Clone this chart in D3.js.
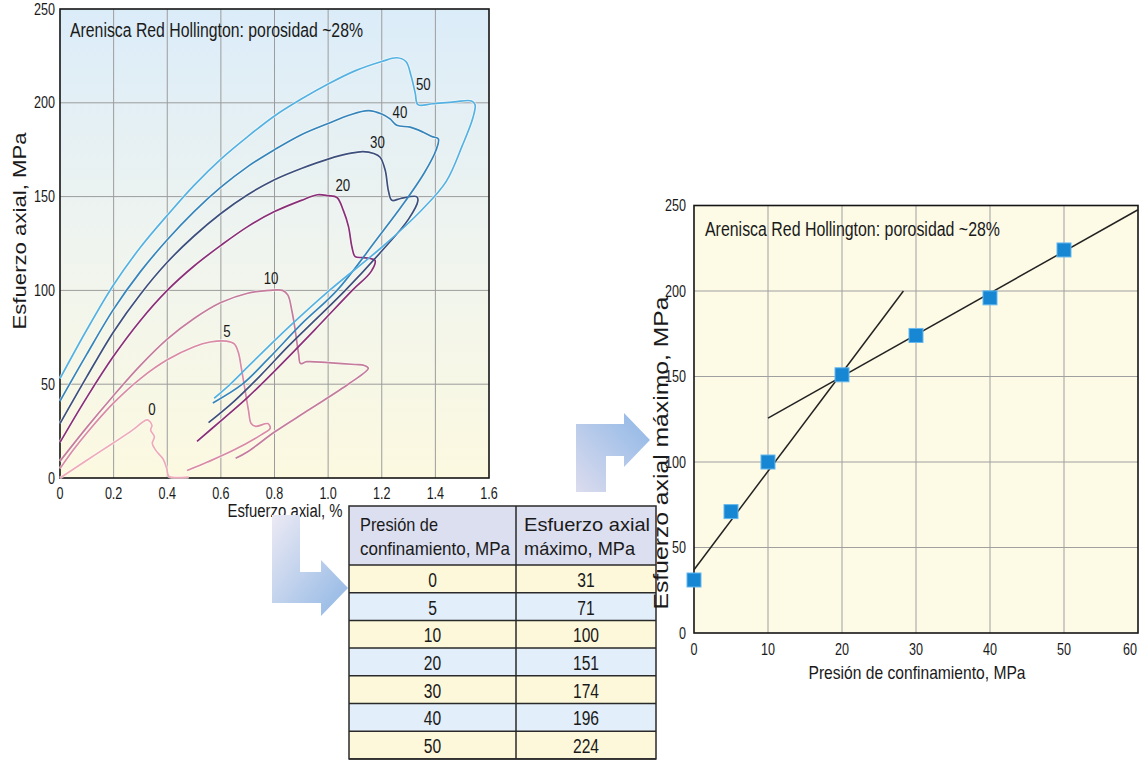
<!DOCTYPE html>
<html><head><meta charset="utf-8">
<script src="https://cdn.jsdelivr.net/npm/d3@7"></script>
<style>
body{margin:0;background:#fff;}
svg text{font-family:"Liberation Sans",Arial,sans-serif;fill:#1a1a1a;}
</style></head><body>
<svg id="c" width="1141" height="761"></svg>
<script>
// ---------- DATA ----------
const pressures = [0, 5, 10, 20, 30, 40, 50];
const peakStress = [31, 71, 100, 151, 174, 196, 224];
const strainTicks = [0, 0.2, 0.4, 0.6, 0.8, 1.0, 1.2, 1.4, 1.6];
const strainTickLabels = ["0", "0.2", "0.4", "0.6", "0.8", "1.0", "1.2", "1.4", "1.6"];
const stressTicks = [0, 50, 100, 150, 200, 250];
const pressureTicks = [0, 10, 20, 30, 40, 50, 60];
const titleText = "Arenisca Red Hollington: porosidad ~28%";

// stress-strain curves: [axial strain %, axial stress MPa]
const curve0 = [[0,0],[0.1,9.5],[0.2,18.8],[0.27,25.5],[0.31,30],[0.325,31],[0.336,30],[0.343,28],[0.338,25.5],[0.352,22],[0.344,18.5],[0.356,15],[0.385,10],[0.398,5],[0.405,1],[0.42,0.3],[0.48,0.5]];
const curve5 = [[0,5],[0.05,15],[0.1,24],[0.2,40],[0.3,53],[0.4,63],[0.5,70],[0.56,72.5],[0.62,73],[0.65,71.5],[0.665,67],[0.677,58],[0.69,47],[0.703,36],[0.713,29],[0.73,27.5],[0.775,29],[0.784,26.5],[0.75,23],[0.65,15],[0.55,8.5],[0.474,4]];
const curve10 = [[0,9],[0.1,27],[0.2,44],[0.3,60],[0.4,74],[0.5,85],[0.6,93.5],[0.7,98.5],[0.78,100],[0.83,100],[0.85,97.5],[0.865,89],[0.877,79],[0.89,66],[0.897,61],[0.92,62],[1.0,61.5],[1.1,60.5],[1.135,60],[1.15,58.5],[1.08,50.5],[0.93,36.5],[0.8,24.5],[0.7,14],[0.655,10.5]];
const curve20 = [[0,19],[0.1,43],[0.2,65],[0.3,84],[0.4,100],[0.5,113],[0.6,124],[0.7,134],[0.8,142],[0.9,148],[0.96,151],[1.0,150.5],[1.033,149.5],[1.057,142.5],[1.076,134],[1.089,123],[1.101,118],[1.13,117.5],[1.157,117],[1.175,116],[1.16,110],[1.09,100],[0.95,79],[0.8,57],[0.7,43],[0.6,30.5],[0.511,19.5]];
const curve30 = [[0,29],[0.1,54],[0.2,78],[0.3,98],[0.4,115],[0.5,129],[0.6,141],[0.7,151],[0.8,159],[0.9,165],[1.0,170],[1.08,173],[1.13,174],[1.17,173],[1.194,171],[1.213,164],[1.225,153],[1.238,148],[1.27,149],[1.33,150],[1.335,148],[1.3,138],[1.2,121],[1.064,100],[0.95,84],[0.85,70],[0.75,55],[0.65,41],[0.554,29.5]];
const curve40 = [[0,41],[0.1,66],[0.2,90],[0.3,110],[0.4,127],[0.5,142],[0.6,155],[0.7,166],[0.8,175],[0.9,183],[1.0,189],[1.08,193.5],[1.15,195.8],[1.2,194],[1.231,191.4],[1.256,188],[1.306,187],[1.355,184.3],[1.387,182],[1.411,180.8],[1.403,175],[1.36,163],[1.28,146],[1.18,127],[1.033,100],[0.9,82],[0.78,64],[0.68,50],[0.57,40]];
const curve50 = [[0,53],[0.1,79],[0.2,103],[0.3,123],[0.4,140],[0.5,156],[0.6,170],[0.7,182],[0.8,193],[0.9,202],[1.0,210],[1.1,217],[1.2,222],[1.256,224],[1.29,222],[1.31,214],[1.325,205],[1.335,199],[1.39,199.5],[1.47,200.5],[1.535,201],[1.548,199],[1.54,192],[1.50,177],[1.44,158],[1.35,143],[1.2,123],[1.005,100],[0.85,80],[0.72,62],[0.62,48],[0.575,42.5]];
const curveColors = ["#eeaab8", "#d98aa4", "#c57c9c", "#8a2f78", "#3d4f7c", "#3585bb", "#54b2e2"];
const curveLabelPos = [[0.343,36.6],[0.623,77.9],[0.787,106.3],[1.055,155.9],[1.184,179],[1.268,194.9],[1.355,210]];

// regression lines on the right chart: [pressure, peak stress]
const fitLow = [[0, 37], [28.3, 200]];
const fitHigh = [[10, 125.7], [60, 247.5]];

// ---------- HELPERS ----------
function squeeze(sel, k){ sel.each(function(){ const w=this.getComputedTextLength(); d3.select(this).attr("textLength",w*k).attr("lengthAdjust","spacingAndGlyphs"); }); return sel; }
function fitW(sel, w){ return sel.attr("textLength",w).attr("lengthAdjust","spacingAndGlyphs"); }

// ---------- DRAW ----------
const svg = d3.select("#c");
const defs = svg.append("defs");
const gL = defs.append("linearGradient").attr("id","bgL").attr("x1",0).attr("y1",0).attr("x2",0).attr("y2",1);
gL.append("stop").attr("offset","0%").attr("stop-color","#dbecf9");
gL.append("stop").attr("offset","50%").attr("stop-color","#eff4ef");
gL.append("stop").attr("offset","100%").attr("stop-color","#fcf9e0");
const gA1 = defs.append("linearGradient").attr("id","ar1").attr("x1",0).attr("y1",0).attr("x2",1).attr("y2",1);
gA1.append("stop").attr("offset","0%").attr("stop-color","#eceaf4");
gA1.append("stop").attr("offset","100%").attr("stop-color","#8fb6e4");
const gA2 = defs.append("linearGradient").attr("id","ar2").attr("x1",0).attr("y1",1).attr("x2",1).attr("y2",0);
gA2.append("stop").attr("offset","0%").attr("stop-color","#dcdcee");
gA2.append("stop").attr("offset","100%").attr("stop-color","#8db6e6");

// ---- Left chart ----
const xL = d3.scaleLinear().domain([0,1.6]).range([60,489]);
const yL = d3.scaleLinear().domain([0,250]).range([478,9]);
const L = svg.append("g");
L.append("rect").attr("x",xL(0)).attr("y",yL(250)).attr("width",xL(1.6)-xL(0)).attr("height",yL(0)-yL(250)).attr("fill","url(#bgL)");
L.append("g").selectAll("line").data(strainTicks.slice(1,-1)).join("line")
  .attr("x1",d=>xL(d)).attr("x2",d=>xL(d)).attr("y1",yL(0)).attr("y2",yL(250))
  .attr("stroke","#9c9c9c").attr("stroke-width",1);
L.append("g").selectAll("line").data(stressTicks.slice(1,-1)).join("line")
  .attr("y1",d=>yL(d)).attr("y2",d=>yL(d)).attr("x1",xL(0)).attr("x2",xL(1.6))
  .attr("stroke","#9c9c9c").attr("stroke-width",1);
L.append("rect").attr("x",xL(0)).attr("y",yL(250)).attr("width",xL(1.6)-xL(0)).attr("height",yL(0)-yL(250)).attr("fill","none").attr("stroke","#151515").attr("stroke-width",1.6);

const lineL = d3.line().x(d=>xL(d[0])).y(d=>yL(d[1])).curve(d3.curveCatmullRom.alpha(0.5));
const curves = [curve0, curve5, curve10, curve20, curve30, curve40, curve50];
L.append("g").selectAll("path").data(curves).join("path")
  .attr("d",lineL).attr("fill","none").attr("stroke","#ffffff").attr("stroke-opacity",0.6).attr("stroke-width",3.2);
L.append("g").selectAll("path").data(curves).join("path")
  .attr("d",lineL).attr("fill","none").attr("stroke",(d,i)=>curveColors[i]).attr("stroke-width",1.7).attr("stroke-linejoin","round");
squeeze(L.append("g").selectAll("text").data(pressures).join("text")
  .attr("x",(d,i)=>xL(curveLabelPos[i][0])).attr("y",(d,i)=>yL(curveLabelPos[i][1]))
  .attr("text-anchor","middle").attr("dominant-baseline","central").attr("font-size",17).text(d=>d), 0.78);

fitW(L.append("text").attr("x",70).attr("y",37).attr("font-size",20).text(titleText), 293);
squeeze(L.append("g").selectAll("text").data(stressTicks).join("text")
  .attr("x",xL(0)-5).attr("y",d=>yL(d)).attr("text-anchor","end").attr("dominant-baseline","central").attr("font-size",17).text(d=>d), 0.74);
squeeze(L.append("g").selectAll("text").data(strainTicks).join("text")
  .attr("x",d=>xL(d)).attr("y",yL(0)+15).attr("text-anchor","middle").attr("dominant-baseline","central").attr("font-size",17).text((d,i)=>strainTickLabels[i]), 0.74);
fitW(L.append("text").attr("transform",`translate(20,231) rotate(-90)`).attr("text-anchor","middle").attr("dominant-baseline","central").attr("font-size",18).text("Esfuerzo axial, MPa"), 197);
fitW(L.append("text").attr("x",285).attr("y",517).attr("text-anchor","middle").attr("font-size",18).text("Esfuerzo axial, %"), 115);

// ---- Arrows ----
svg.append("path").attr("d","M272,515 L300,515 L300,572 L321,572 L321,560 L348,588 L321,616 L321,603 L272,603 Z").attr("fill","url(#ar1)");
svg.append("path").attr("d","M576,492 L606,492 L606,456 L624,456 L624,467 L650,440 L624,413 L624,424 L576,424 Z").attr("fill","url(#ar2)");

// ---- Table ----
const tX0 = 349, tX1 = 516, tX2 = 656, tY0 = 506, tHead = 565, rowH = 27.7;
const T = svg.append("g");
T.append("rect").attr("x",tX0).attr("y",tY0).attr("width",tX2-tX0).attr("height",tHead-tY0).attr("fill","#dcdff0");
T.append("g").selectAll("rect").data(pressures).join("rect")
  .attr("x",tX0).attr("y",(d,i)=>tHead+i*rowH).attr("width",tX2-tX0).attr("height",rowH)
  .attr("fill",(d,i)=>i%2===0?"#fdf8da":"#e2eef9");
T.append("g").selectAll("line").data(d3.range(pressures.length+1)).join("line")
  .attr("x1",tX0).attr("x2",tX2).attr("y1",i=>tHead+i*rowH).attr("y2",i=>tHead+i*rowH)
  .attr("stroke","#2a2a2a").attr("stroke-width",1.5);
T.append("rect").attr("x",tX0).attr("y",tY0).attr("width",tX2-tX0).attr("height",tHead+pressures.length*rowH-tY0).attr("fill","none").attr("stroke","#2a2a2a").attr("stroke-width",1.5);
T.append("line").attr("x1",tX1).attr("x2",tX1).attr("y1",tY0).attr("y2",tHead+pressures.length*rowH).attr("stroke","#2a2a2a").attr("stroke-width",1.5);
fitW(T.append("text").attr("x",tX0+11).attr("y",tY0+25).attr("font-size",19).text("Presión de"), 78);
fitW(T.append("text").attr("x",tX0+11).attr("y",tY0+49).attr("font-size",19).text("confinamiento, MPa"), 150);
fitW(T.append("text").attr("x",tX1+8).attr("y",tY0+25).attr("font-size",19).text("Esfuerzo axial"), 126);
fitW(T.append("text").attr("x",tX1+8).attr("y",tY0+49).attr("font-size",19).text("máximo, MPa"), 111);
squeeze(T.append("g").selectAll("text").data(pressures).join("text")
  .attr("x",(tX0+tX1)/2).attr("y",(d,i)=>tHead+i*rowH+rowH/2+1).attr("text-anchor","middle").attr("dominant-baseline","central").attr("font-size",20).text(d=>d), 0.78);
squeeze(T.append("g").selectAll("text").data(peakStress).join("text")
  .attr("x",(tX1+tX2)/2).attr("y",(d,i)=>tHead+i*rowH+rowH/2+1).attr("text-anchor","middle").attr("dominant-baseline","central").attr("font-size",20).text(d=>d), 0.78);

// ---- Right chart ----
const xR = d3.scaleLinear().domain([0,60]).range([694,1138]);
const yR = d3.scaleLinear().domain([0,250]).range([633,205.5]);
const R = svg.append("g");
R.append("rect").attr("x",xR(0)).attr("y",yR(250)).attr("width",xR(60)-xR(0)).attr("height",yR(0)-yR(250)).attr("fill","#fdfae6");
R.append("g").selectAll("line").data(pressureTicks.slice(1,-1)).join("line")
  .attr("x1",d=>xR(d)).attr("x2",d=>xR(d)).attr("y1",yR(0)).attr("y2",yR(250)).attr("stroke","#a0a0a0").attr("stroke-width",1);
R.append("g").selectAll("line").data(stressTicks.slice(1,-1)).join("line")
  .attr("y1",d=>yR(d)).attr("y2",d=>yR(d)).attr("x1",xR(0)).attr("x2",xR(60)).attr("stroke","#a0a0a0").attr("stroke-width",1);
R.append("rect").attr("x",xR(0)).attr("y",yR(250)).attr("width",xR(60)-xR(0)).attr("height",yR(0)-yR(250)).attr("fill","none").attr("stroke","#151515").attr("stroke-width",1.6);
const lineR = d3.line().x(d=>xR(d[0])).y(d=>yR(d[1]));
R.append("path").attr("d",lineR(fitLow)).attr("stroke","#222").attr("stroke-width",1.5).attr("fill","none");
R.append("path").attr("d",lineR(fitHigh)).attr("stroke","#222").attr("stroke-width",1.5).attr("fill","none");
const pts = pressures.map((p,i)=>[p,peakStress[i]]);
R.append("g").selectAll("rect").data(pts).join("rect")
  .attr("x",d=>xR(d[0])-7).attr("y",d=>yR(d[1])-7).attr("width",14).attr("height",14)
  .attr("fill","#1787d4").attr("stroke","#66b8ec").attr("stroke-width",1);
fitW(R.append("text").attr("x",705).attr("y",236).attr("font-size",20).text(titleText), 295);
squeeze(R.append("g").selectAll("text").data(stressTicks).join("text")
  .attr("x",xR(0)-8).attr("y",d=>yR(d)).attr("text-anchor","end").attr("dominant-baseline","central").attr("font-size",17).text(d=>d), 0.74);
squeeze(R.append("g").selectAll("text").data(pressureTicks).join("text")
  .attr("x",d=>Math.min(xR(d),1130)).attr("y",yR(0)+16).attr("text-anchor","middle").attr("dominant-baseline","central").attr("font-size",17).text(d=>d), 0.74);
fitW(R.append("text").attr("transform",`translate(661,453) rotate(-90)`).attr("text-anchor","middle").attr("dominant-baseline","central").attr("font-size",20).text("Esfuerzo axial máximo, MPa"), 313);
fitW(R.append("text").attr("x",917).attr("y",679).attr("text-anchor","middle").attr("font-size",19).text("Presión de confinamiento, MPa"), 217);
</script>
</body></html>
